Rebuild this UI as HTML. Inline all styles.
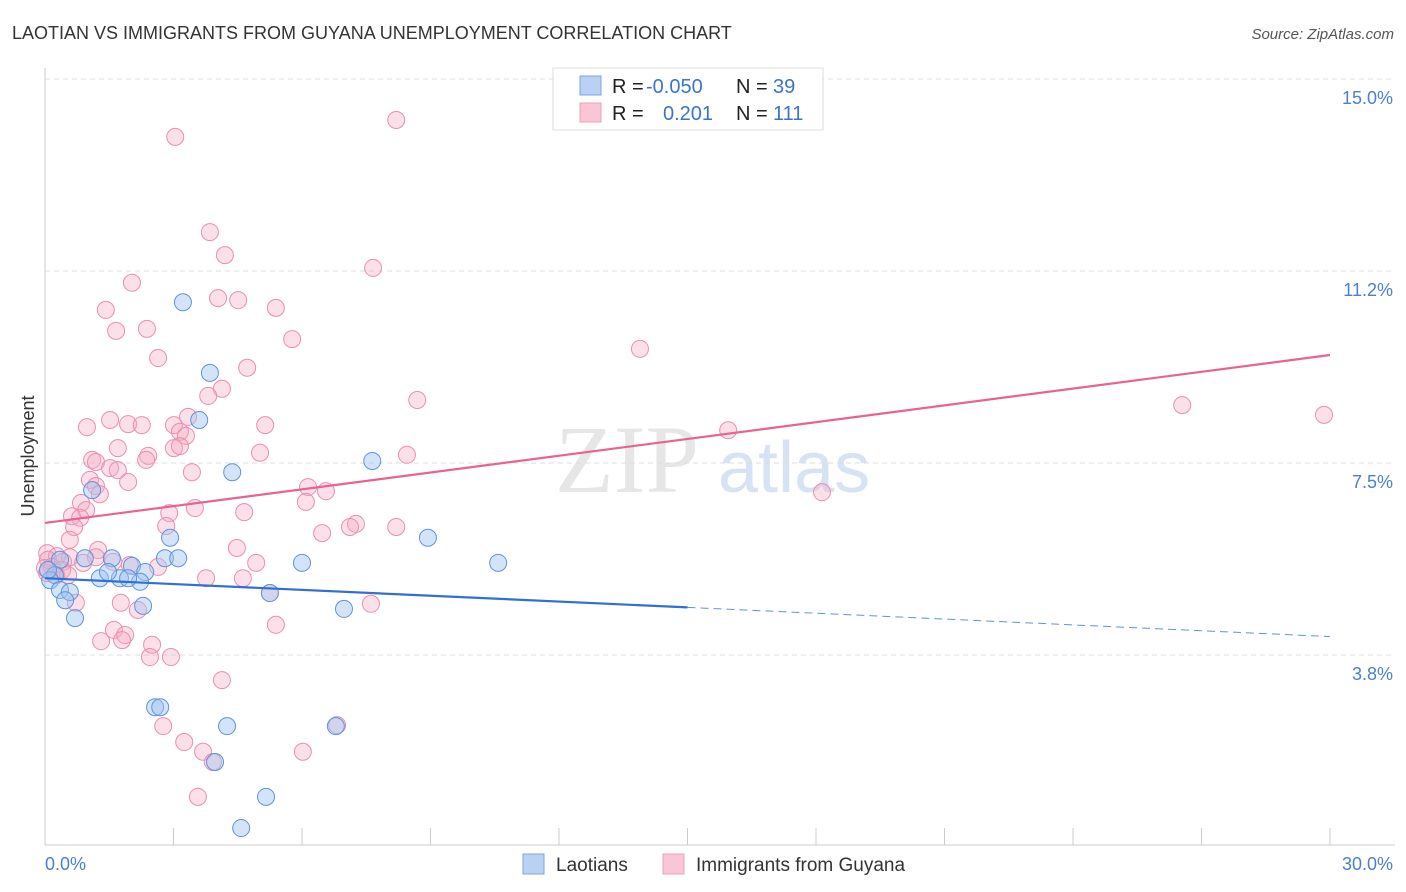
<!DOCTYPE html>
<html><head><meta charset="utf-8"><style>
body{margin:0;background:#fff;font-family:"Liberation Sans",sans-serif}
#wrap{position:relative;width:1406px;height:892px;overflow:hidden}
</style></head><body>
<div id="wrap">
<svg id="svg" width="1406" height="892"></svg>
</div>
<script>
const xTicks=[0,3,6,9,12,15,18,21,24,27,30];
const yTickVals=[3.75,7.5,11.25,15];
const yTickLabels=["3.8%","7.5%","11.2%","15.0%"];
const blueX=[3.22,3.85,3.60,4.37,7.64,8.94,10.58,6.00,2.92,2.80,3.11,1.10,1.56,0.93,2.03,2.34,1.28,1.75,2.22,1.94,1.47,0.35,0.23,0.12,0.07,0.35,0.58,0.47,0.70,2.29,5.25,6.98,2.57,2.69,4.25,6.79,3.97,5.16,4.58];
const blueY=[10.64,9.26,8.34,7.32,7.54,6.04,5.55,5.55,6.04,5.64,5.64,6.97,5.64,5.64,5.49,5.37,5.25,5.25,5.18,5.25,5.37,5.61,5.31,5.21,5.41,5.02,4.98,4.82,4.47,4.71,4.96,4.65,2.73,2.73,2.36,2.36,1.66,0.98,0.37];
const pinkX=[8.20,3.04,3.85,4.20,7.66,2.03,4.04,4.51,1.42,5.39,1.66,2.38,5.77,2.64,13.89,4.72,4.13,3.81,8.69,26.55,29.86,3.34,1.52,0.98,1.94,2.26,3.01,5.14,15.95,3.15,3.29,1.70,3.01,3.15,2.41,1.10,1.19,5.02,8.45,2.36,1.52,1.70,3.43,1.05,1.94,1.19,6.14,6.56,18.14,1.28,0.84,6.09,3.50,0.96,0.63,0.82,2.90,4.65,2.83,7.26,7.12,8.20,6.47,0.68,0.58,0.05,0.28,1.24,4.48,0.58,1.19,0.07,0.42,0.89,1.59,4.93,0.16,0.40,1.98,2.64,0.05,0.26,0.54,0.00,3.76,4.62,5.25,1.77,0.72,2.17,7.61,5.39,1.61,1.87,1.31,1.80,2.50,2.45,2.94,4.13,2.76,6.82,3.25,3.69,6.02,3.92,3.57];
const pinkY=[14.20,13.87,12.01,11.56,11.31,11.02,10.72,10.68,10.49,10.53,10.08,10.12,9.92,9.55,9.73,9.36,8.95,8.81,8.73,8.63,8.44,8.40,8.34,8.20,8.26,8.24,8.24,8.24,8.14,8.11,8.03,7.79,7.79,7.83,7.64,7.56,7.52,7.70,7.66,7.56,7.40,7.36,7.32,7.17,7.13,7.05,7.03,6.95,6.93,6.89,6.72,6.74,6.62,6.58,6.46,6.43,6.52,6.54,6.27,6.31,6.25,6.25,6.13,6.25,6.00,5.74,5.68,5.80,5.84,5.66,5.66,5.61,5.57,5.55,5.57,5.55,5.47,5.41,5.51,5.47,5.35,5.31,5.31,5.45,5.25,5.25,4.96,4.77,4.77,4.63,4.75,4.34,4.24,4.14,4.02,4.04,3.95,3.71,3.71,3.26,2.36,2.38,2.05,1.86,1.86,1.66,0.98];
const blueTrend=[5.25,-0.038]; // intercept, slope
const pinkTrend=[6.33,0.1093];

const X0=45,X1=1330,YB=847,PX=51.2;
const sx=v=>X0+(X1-X0)*v/30;
const sy=v=>YB-v*PX;
const NS="http://www.w3.org/2000/svg";
const svg=document.getElementById('svg');
function mk(tag,attrs,parent){const e=document.createElementNS(NS,tag);for(const k in attrs)e.setAttribute(k,attrs[k]);(parent||svg).appendChild(e);return e;}

let t=mk('text',{x:12,y:39,'font-size':18,fill:'#333'});t.textContent="LAOTIAN VS IMMIGRANTS FROM GUYANA UNEMPLOYMENT CORRELATION CHART";


t=mk('text',{x:1394,y:39,'font-size':15,fill:'#555','text-anchor':'end','font-style':'italic'});t.textContent="Source: ZipAtlas.com";



t=mk('text',{x:555,y:492,'font-size':96,fill:'#e6e6e6','font-family':'Liberation Serif'});t.textContent="ZIP";


t=mk('text',{x:718,y:492,'font-size':72,fill:'#d6e3f5'});t.textContent="atlas";



yTickVals.forEach((v,i)=>{
 const g=mk('line',{x1:X0,x2:1395,y1:sy(v),y2:sy(v),stroke:'#ddd','stroke-dasharray':'5,4'});
 
 
 const l=mk('text',{x:1393,y:sy(v)+25,'font-size':18,fill:'#4a7fd4','text-anchor':'end'});l.textContent=yTickLabels[i];
 
 
});
let a=mk('line',{x1:X0,x2:X0,y1:68,y2:845,stroke:'#ccc'});


a=mk('line',{x1:X0,x2:1395,y1:845,y2:845,stroke:'#ccc'});


xTicks.forEach(v=>{
 const k=mk('line',{x1:sx(v),x2:sx(v),y1:828,y2:845,stroke:'#ccc'});
 
 
});
t=mk('text',{x:45,y:870,'font-size':18,fill:'#4a7fd4'});t.textContent="0.0%";


t=mk('text',{x:1393,y:870,'font-size':18,fill:'#4a7fd4','text-anchor':'end'});t.textContent="30.0%";


t=mk('text',{x:34,y:456,'font-size':18,fill:'#333','text-anchor':'middle',transform:'rotate(-90 34 456)'});t.textContent="Unemployment";



function dots(xs,ys,fill,stroke,name){xs.forEach((x,i)=>{
 const c=mk('circle',{cx:sx(x),cy:sy(ys[i]),r:8.5,fill:fill,stroke:stroke,'stroke-width':1});
 
 
});}
dots(pinkX,pinkY,'rgba(245,165,192,0.35)','#ea8fae','guyana-point');
dots(blueX,blueY,'rgba(160,195,240,0.45)','#5f93dc','laotian-point');

let p=mk('line',{x1:sx(0),y1:sy(pinkTrend[0]),x2:sx(30),y2:sy(pinkTrend[0]+pinkTrend[1]*30),stroke:'#e8638f','stroke-width':2.2});


p=mk('line',{x1:sx(0),y1:sy(blueTrend[0]),x2:sx(15),y2:sy(blueTrend[0]+blueTrend[1]*15),stroke:'#2f6fd6','stroke-width':2.2});


p=mk('line',{x1:sx(15),y1:sy(blueTrend[0]+blueTrend[1]*15),x2:sx(30),y2:sy(blueTrend[0]+blueTrend[1]*30),stroke:'#5f93dc','stroke-width':1,'stroke-dasharray':'8,5'});



const lg=mk('g',{});


mk('rect',{x:553,y:68,width:270,height:62,fill:'#fff',stroke:'#ddd'},lg);
mk('rect',{x:580,y:76,width:21,height:19,fill:'#b9d2f3',stroke:'#7aa6e2'},lg);
mk('rect',{x:580,y:103,width:21,height:19,fill:'#fac6d6',stroke:'#eca0ba'},lg);
[["R = ",612,93,'#222'],["-0.050",646,93,'#3b73cf'],["N = ",736,93,'#222'],["39",773,93,'#3b73cf'],
 ["R = ",612,120,'#222'],["0.201",663,120,'#3b73cf'],["N = ",736,120,'#222'],["111",773,120,'#3b73cf']].forEach(d=>{
 const e=mk('text',{x:d[1],y:d[2],'font-size':20,fill:d[3]},lg);e.textContent=d[0];
 
 
});

[[523,'#b9d2f3','#7aa6e2','Laotians',556,'legend-laotians'],[663,'#fac6d6','#eca0ba','Immigrants from Guyana',696,'legend-guyana']].forEach(d=>{
 const g=mk('g',{});
 
 
 mk('rect',{x:d[0],y:854,width:21,height:20,fill:d[1],stroke:d[2]},g);
 const e=mk('text',{x:d[4],y:871,'font-size':19,fill:'#333'},g);e.textContent=d[3];
});
</script>
</body></html>
